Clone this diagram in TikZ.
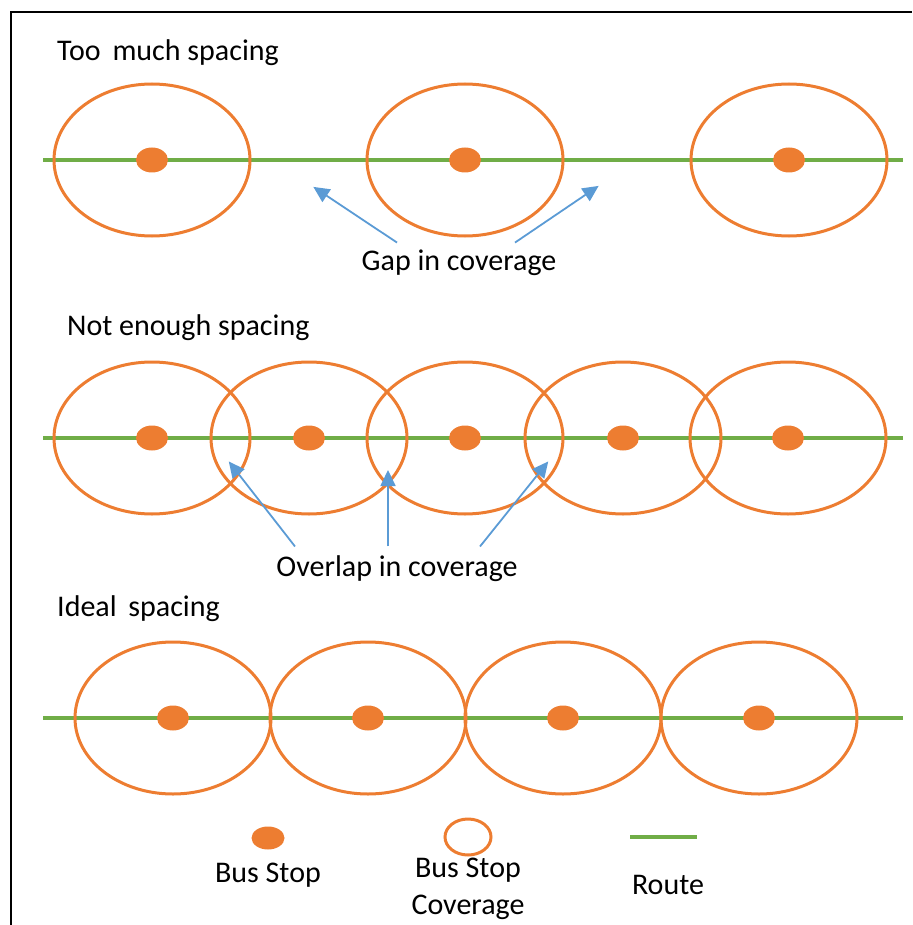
\documentclass[tikz,border=0pt]{standalone}
\usepackage{fontspec}
\setmainfont{Carlito}
\usetikzlibrary{shapes.geometric}
\usetikzlibrary{arrows.meta}

\definecolor{stoporange}{HTML}{ED7D31}
\definecolor{routegreen}{HTML}{70AD47}
\definecolor{pointblue}{HTML}{5B9BD5}

\begin{document}
\begin{tikzpicture}[x=1pt,y=-1pt,
	font=\fontsize{30}{37}\selectfont,
	cover/.style={ellipse,draw=stoporange,line width=3pt,minimum width=196pt,minimum height=152pt,inner sep=0pt},
	stop/.style={ellipse,fill=stoporange,minimum width=32pt,minimum height=25pt,inner sep=0pt},
	route/.style={draw=routegreen,line width=4pt},
	pointer/.style={draw=pointblue,line width=1.8pt,-{Triangle[length=16pt,width=15pt]},shorten >=-2pt},
	title/.style={anchor=west,inner sep=0pt}]
		
		\useasboundingbox (0,0) rectangle (912,925);
		\draw[line width=2.5pt] (11,925) -- (11,12) -- (912,12);
		
		% too much spacing
		\node[title] at (57,53) (t1) {Too\, much spacing};
		\coordinate (r1a) at (43,160);
		\coordinate (r1b) at (903,160);
		\path[route] (r1a) -- (r1b);
		\foreach \x [count=\i] in {152,465,789} {
			\node[cover] at (\x,160) (c1\i) {};
			\node[stop] at (\x,160) (s1\i) {};
		}
		\node at (459,263) (gap) {Gap in coverage};
		\coordinate (g1) at (315,188);
		\coordinate (g2) at (597,187);
		\path
		([xshift=-62pt,yshift=4pt]gap.north) edge[pointer] (g1)
		([xshift=56pt,yshift=4pt]gap.north) edge[pointer] (g2)
		;
		
		% not enough spacing
		\node[title] at (67,328) (t2) {Not enough spacing};
		\coordinate (r2a) at (43,438);
		\coordinate (r2b) at (903,438);
		\path[route] (r2a) -- (r2b);
		\foreach \x [count=\i] in {152,309,465,623,788} {
			\node[cover] at (\x,438) (c2\i) {};
			\node[stop] at (\x,438) (s2\i) {};
		}
		\node at (397,569) (ovl) {Overlap in coverage};
		\coordinate (o1) at (230,463);
		\coordinate (o2) at (388,472);
		\coordinate (o3) at (547,463);
		\path
		([xshift=-102pt,yshift=6pt]ovl.north) edge[pointer] (o1)
		([xshift=-9pt,yshift=6pt]ovl.north) edge[pointer] (o2)
		([xshift=83pt,yshift=6pt]ovl.north) edge[pointer] (o3)
		;
		
		% ideal spacing
		\node[title] at (57,609) (t3) {Ideal\, spacing};
		\coordinate (r3a) at (43,718);
		\coordinate (r3b) at (903,718);
		\path[route] (r3a) -- (r3b);
		\foreach \x [count=\i] in {173,368,563,759} {
			\node[cover] at (\x,718) (c3\i) {};
			\node[stop] at (\x,718) (s3\i) {};
		}
		
		% legend
		\node[stop,minimum width=33pt,minimum height=23pt] at (268,838) (ls) {};
		\node at (268,875) (lst) {Bus Stop};
		\node[cover,minimum width=46pt,minimum height=36pt] at (468,837) (lc) {};
		\node[align=center] at (468,889) (lct) {Bus Stop\\Coverage};
		\coordinate (lra) at (630,837);
		\coordinate (lrb) at (697,837);
		\path[route] (lra) -- (lrb);
		\node at (668,885) (lrt) {Route};
		
\end{tikzpicture}
\end{document}
